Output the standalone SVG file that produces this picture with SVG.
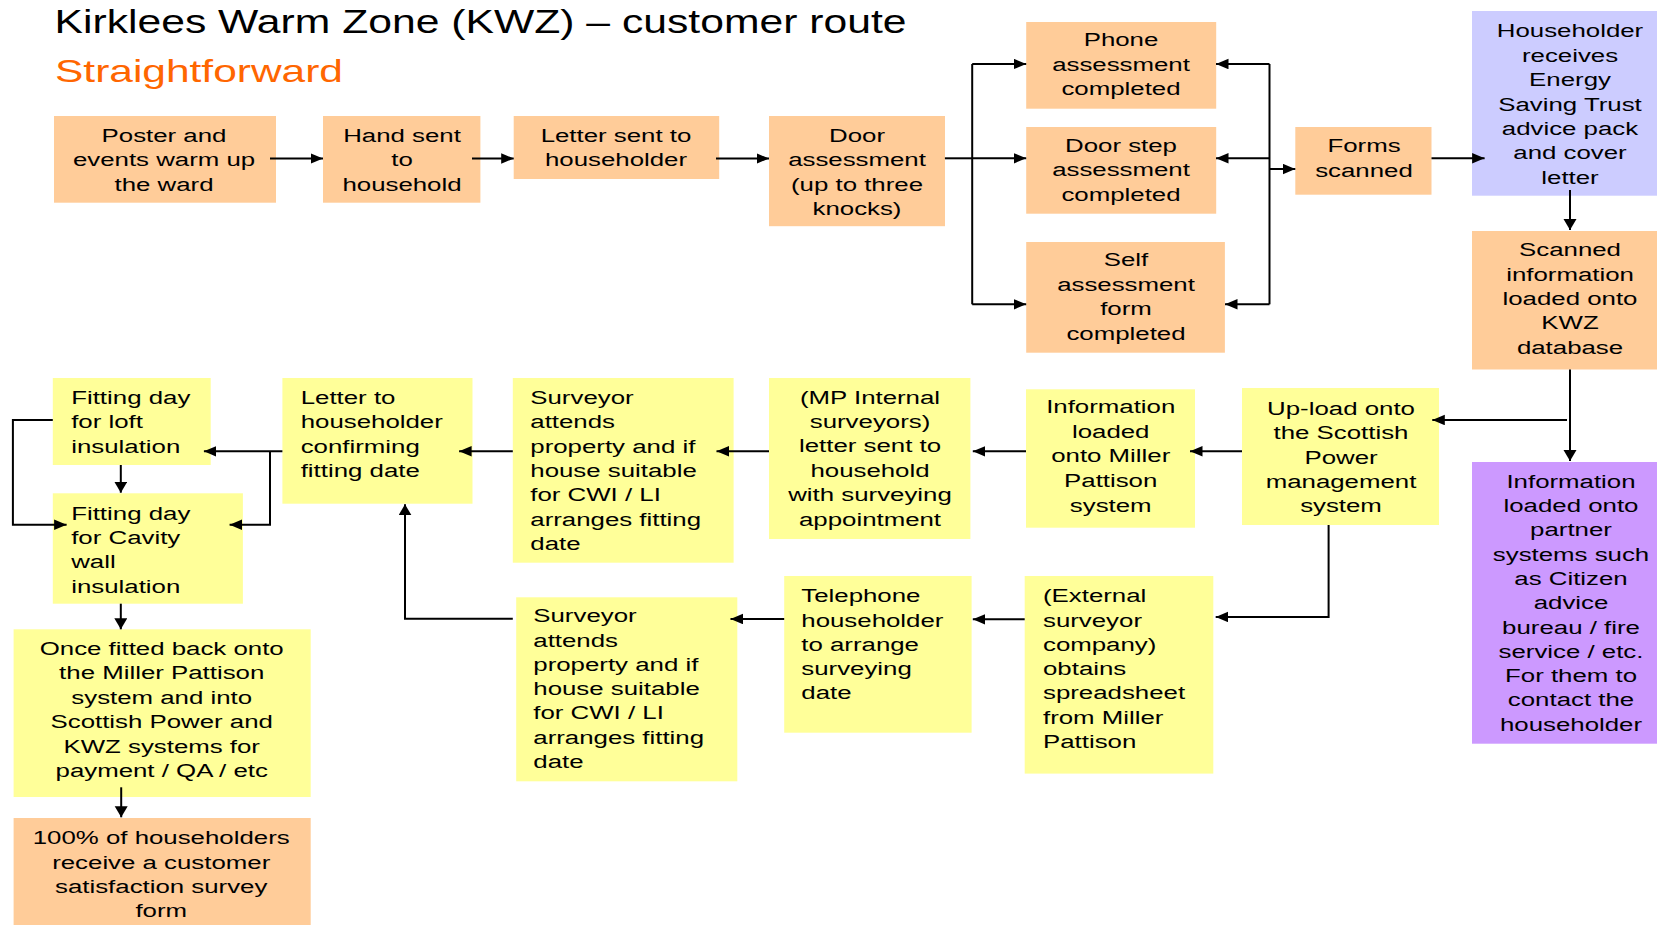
<svg xmlns="http://www.w3.org/2000/svg" width="1657" height="925" viewBox="0 0 1657 925">
<style>
.o{fill:#FFCC99}.y{fill:#FFFF99}.b{fill:#CCCCFF}.p{fill:#CC99FF}
.t{font-family:"Liberation Sans",Arial,sans-serif;font-size:19px;fill:#000}
.c{text-anchor:middle}
.h{font-family:"Liberation Sans",Arial,sans-serif;fill:#000}
#connectors path{fill:none;stroke:#000;stroke-width:2}
</style>
<defs>
<marker id="ah" markerUnits="userSpaceOnUse" markerWidth="14" markerHeight="12" refX="12.5" refY="5.25" orient="auto"><path d="M0,0 L12.5,5.25 L0,10.5 z" fill="#000"/></marker>
<marker id="av" markerUnits="userSpaceOnUse" markerWidth="12" markerHeight="14" refX="11" refY="6.5" orient="auto"><path d="M0,0 L11,6.5 L0,13 z" fill="#000"/></marker>
</defs>
<rect width="1657" height="925" fill="#fff"/>
<g id="title">
<text class="h" x="54.5" y="33.3" font-size="32.5" textLength="852" lengthAdjust="spacingAndGlyphs">Kirklees Warm Zone (KWZ) – customer route</text>
<text class="h" x="55" y="81.7" font-size="31.5" textLength="288" lengthAdjust="spacingAndGlyphs" style="fill:#FF6600">Straightforward</text>
</g>

<g id="poster"><rect class="o" x="54" y="116" width="222" height="86.7"/>
<text class="t c" transform="translate(164 0) scale(1.36 1)"><tspan x="0" y="141.7">Poster and</tspan><tspan x="0" y="166.2">events warm up</tspan><tspan x="0" y="190.7">the ward</tspan></text></g>
<g id="hand"><rect class="o" x="323" y="116" width="157.4" height="86.7"/>
<text class="t c" transform="translate(402 0) scale(1.36 1)"><tspan x="0" y="141.7">Hand sent</tspan><tspan x="0" y="166.2">to</tspan><tspan x="0" y="190.7">household</tspan></text></g>
<g id="lettersent"><rect class="o" x="513.7" y="116" width="205.5" height="63"/>
<text class="t c" transform="translate(616 0) scale(1.36 1)"><tspan x="0" y="141.7">Letter sent to</tspan><tspan x="0" y="166.2">householder</tspan></text></g>
<g id="door"><rect class="o" x="769" y="116" width="176" height="110.2"/>
<text class="t c" transform="translate(857 0) scale(1.36 1)"><tspan x="0" y="141.7">Door</tspan><tspan x="0" y="166.2">assessment</tspan><tspan x="0" y="190.7">(up to three</tspan><tspan x="0" y="215.2">knocks)</tspan></text></g>
<g id="phone"><rect class="o" x="1026.2" y="22" width="190" height="86.7"/>
<text class="t c" transform="translate(1121 0) scale(1.36 1)"><tspan x="0" y="46.5">Phone</tspan><tspan x="0" y="71">assessment</tspan><tspan x="0" y="95.5">completed</tspan></text></g>
<g id="doorstep"><rect class="o" x="1026.2" y="127" width="190" height="86.7"/>
<text class="t c" transform="translate(1121 0) scale(1.36 1)"><tspan x="0" y="152">Door step</tspan><tspan x="0" y="176.5">assessment</tspan><tspan x="0" y="201">completed</tspan></text></g>
<g id="self"><rect class="o" x="1026.2" y="242" width="198.7" height="110.7"/>
<text class="t c" transform="translate(1126 0) scale(1.36 1)"><tspan x="0" y="266.5">Self</tspan><tspan x="0" y="291">assessment</tspan><tspan x="0" y="315.5">form</tspan><tspan x="0" y="340">completed</tspan></text></g>
<g id="forms"><rect class="o" x="1295.3" y="127" width="136.2" height="67.7"/>
<text class="t c" transform="translate(1364 0) scale(1.36 1)"><tspan x="0" y="152.5">Forms</tspan><tspan x="0" y="177">scanned</tspan></text></g>
<g id="householder"><rect class="b" x="1472" y="11" width="185" height="184.7"/>
<text class="t c" transform="translate(1570 0) scale(1.36 1)"><tspan x="0" y="37.5">Householder</tspan><tspan x="0" y="61.9">receives</tspan><tspan x="0" y="86.3">Energy</tspan><tspan x="0" y="110.7">Saving Trust</tspan><tspan x="0" y="135.1">advice pack</tspan><tspan x="0" y="159.5">and cover</tspan><tspan x="0" y="183.9">letter</tspan></text></g>
<g id="scanned"><rect class="o" x="1472" y="231" width="185" height="138.5"/>
<text class="t c" transform="translate(1570 0) scale(1.36 1)"><tspan x="0" y="256.2">Scanned</tspan><tspan x="0" y="280.6">information</tspan><tspan x="0" y="305">loaded onto</tspan><tspan x="0" y="329.4">KWZ</tspan><tspan x="0" y="353.8">database</tspan></text></g>
<g id="partner"><rect class="p" x="1472" y="462" width="185" height="281.7"/>
<text class="t c" transform="translate(1571 0) scale(1.36 1)"><tspan x="0" y="487.8">Information</tspan><tspan x="0" y="512.1">loaded onto</tspan><tspan x="0" y="536.4">partner</tspan><tspan x="0" y="560.7">systems such</tspan><tspan x="0" y="585">as Citizen</tspan><tspan x="0" y="609.3">advice</tspan><tspan x="0" y="633.6">bureau / fire</tspan><tspan x="0" y="657.9">service / etc.</tspan><tspan x="0" y="682.2">For them to</tspan><tspan x="0" y="706.5">contact the</tspan><tspan x="0" y="730.8">householder</tspan></text></g>
<g id="upload"><rect class="y" x="1242" y="388" width="197" height="137"/>
<text class="t c" transform="translate(1341 0) scale(1.36 1)"><tspan x="0" y="415">Up-load onto</tspan><tspan x="0" y="439.3">the Scottish</tspan><tspan x="0" y="463.6">Power</tspan><tspan x="0" y="487.9">management</tspan><tspan x="0" y="512.2">system</tspan></text></g>
<g id="infomp"><rect class="y" x="1026" y="389.3" width="169" height="138.4"/>
<text class="t c" transform="translate(1110.7 0) scale(1.36 1)"><tspan x="0" y="412.9">Information</tspan><tspan x="0" y="437.6">loaded</tspan><tspan x="0" y="462.3">onto Miller</tspan><tspan x="0" y="487">Pattison</tspan><tspan x="0" y="511.7">system</tspan></text></g>
<g id="mpinternal"><rect class="y" x="769" y="378" width="201.4" height="161"/>
<text class="t c" transform="translate(870 0) scale(1.36 1)"><tspan x="0" y="403.7">(MP Internal</tspan><tspan x="0" y="428.1">surveyors)</tspan><tspan x="0" y="452.5">letter sent to</tspan><tspan x="0" y="476.9">household</tspan><tspan x="0" y="501.3">with surveying</tspan><tspan x="0" y="525.7">appointment</tspan></text></g>
<g id="surveyor1"><rect class="y" x="512.8" y="378" width="220.8" height="184.7"/>
<text class="t" transform="translate(530.3 0) scale(1.36 1)"><tspan x="0" y="404.2">Surveyor</tspan><tspan x="0" y="428.5">attends</tspan><tspan x="0" y="452.8">property and if</tspan><tspan x="0" y="477.1">house suitable</tspan><tspan x="0" y="501.4">for CWI / LI</tspan><tspan x="0" y="525.7">arranges fitting</tspan><tspan x="0" y="550">date</tspan></text></g>
<g id="letterto"><rect class="y" x="282.4" y="378" width="190.1" height="125.7"/>
<text class="t" transform="translate(300.7 0) scale(1.36 1)"><tspan x="0" y="404.2">Letter to</tspan><tspan x="0" y="428.5">householder</tspan><tspan x="0" y="452.8">confirming</tspan><tspan x="0" y="477.1">fitting date</tspan></text></g>
<g id="loft"><rect class="y" x="52.8" y="378" width="157.9" height="87"/>
<text class="t" transform="translate(71.2 0) scale(1.36 1)"><tspan x="0" y="404.2">Fitting day</tspan><tspan x="0" y="428.5">for loft</tspan><tspan x="0" y="452.8">insulation</tspan></text></g>
<g id="cavity"><rect class="y" x="52.8" y="493.3" width="190.1" height="110.4"/>
<text class="t" transform="translate(71.2 0) scale(1.36 1)"><tspan x="0" y="519.7">Fitting day</tspan><tspan x="0" y="544">for Cavity</tspan><tspan x="0" y="568.3">wall</tspan><tspan x="0" y="592.6">insulation</tspan></text></g>
<g id="oncefitted"><rect class="y" x="13.6" y="629.3" width="297.1" height="167.7"/>
<text class="t c" transform="translate(161.7 0) scale(1.36 1)"><tspan x="0" y="655">Once fitted back onto</tspan><tspan x="0" y="679.4">the Miller Pattison</tspan><tspan x="0" y="703.8">system and into</tspan><tspan x="0" y="728.2">Scottish Power and</tspan><tspan x="0" y="752.6">KWZ systems for</tspan><tspan x="0" y="777">payment / QA / etc</tspan></text></g>
<g id="survey100"><rect class="o" x="13.6" y="818" width="297.1" height="107"/>
<text class="t c" transform="translate(161.2 0) scale(1.36 1)"><tspan x="0" y="844.3">100% of householders</tspan><tspan x="0" y="868.6">receive a customer</tspan><tspan x="0" y="892.9">satisfaction survey</tspan><tspan x="0" y="917.2">form</tspan></text></g>
<g id="external"><rect class="y" x="1024.7" y="576" width="188.6" height="197.6"/>
<text class="t" transform="translate(1043 0) scale(1.36 1)"><tspan x="0" y="602.3">(External</tspan><tspan x="0" y="626.6">surveyor</tspan><tspan x="0" y="650.9">company)</tspan><tspan x="0" y="675.2">obtains</tspan><tspan x="0" y="699.5">spreadsheet</tspan><tspan x="0" y="723.8">from Miller</tspan><tspan x="0" y="748.1">Pattison</tspan></text></g>
<g id="telephone"><rect class="y" x="784.2" y="576" width="187.4" height="156.7"/>
<text class="t" transform="translate(801.3 0) scale(1.36 1)"><tspan x="0" y="602.3">Telephone</tspan><tspan x="0" y="626.6">householder</tspan><tspan x="0" y="650.9">to arrange</tspan><tspan x="0" y="675.2">surveying</tspan><tspan x="0" y="699.5">date</tspan></text></g>
<g id="surveyor2"><rect class="y" x="516.2" y="597.3" width="221.1" height="184"/>
<text class="t" transform="translate(533.3 0) scale(1.36 1)"><tspan x="0" y="622.3">Surveyor</tspan><tspan x="0" y="646.6">attends</tspan><tspan x="0" y="670.9">property and if</tspan><tspan x="0" y="695.2">house suitable</tspan><tspan x="0" y="719.5">for CWI / LI</tspan><tspan x="0" y="743.8">arranges fitting</tspan><tspan x="0" y="768.1">date</tspan></text></g>

<g id="connectors">
<path d="M270,158.5 H323" marker-end="url(#ah)"/>
<path d="M472,158.5 H513.7" marker-end="url(#ah)"/>
<path d="M716,158.5 H769" marker-end="url(#ah)"/>
<path d="M944.9,158.3 H972.2"/>
<path d="M972.2,64 V304.3"/>
<path d="M972.2,64 H1026.2" marker-end="url(#ah)"/>
<path d="M972.2,158.3 H1026.2" marker-end="url(#ah)"/>
<path d="M972.2,304.3 H1026.2" marker-end="url(#ah)"/>
<path d="M1269.5,64 V304.3"/>
<path d="M1269.5,64 H1216" marker-end="url(#ah)"/>
<path d="M1269.5,158.3 H1216" marker-end="url(#ah)"/>
<path d="M1269.5,304.3 H1225" marker-end="url(#ah)"/>
<path d="M1269.5,169 H1295.3" marker-end="url(#ah)"/>
<path d="M1431.5,158.3 H1484.6" marker-end="url(#ah)"/>
<path d="M1570,190 V230" marker-end="url(#av)"/>
<path d="M1570,369.5 V461" marker-end="url(#av)"/>
<path d="M1567,420 H1432.3" marker-end="url(#ah)"/>
<path d="M1242,451.3 H1190" marker-end="url(#ah)"/>
<path d="M1026,451.3 H972.8" marker-end="url(#ah)"/>
<path d="M769,451.3 H716.5" marker-end="url(#ah)"/>
<path d="M512.8,451.3 H459.1" marker-end="url(#ah)"/>
<path d="M282.4,451.3 H203.9" marker-end="url(#ah)"/>
<path d="M270,451.3 V524.7 H229.6" marker-end="url(#ah)"/>
<path d="M52.8,420 H12.9 V524.7 H66.6" marker-end="url(#ah)"/>
<path d="M120.8,465 V492.7" marker-end="url(#av)"/>
<path d="M120.8,603.7 V629.3" marker-end="url(#av)"/>
<path d="M121.2,787.3 V817.3" marker-end="url(#av)"/>
<path d="M1328.6,525 V617 H1215.7" marker-end="url(#ah)"/>
<path d="M1024.7,619.3 H972.8" marker-end="url(#ah)"/>
<path d="M784.2,619 H730.5" marker-end="url(#ah)"/>
<path d="M512.8,618.7 H405 V504.3" marker-end="url(#av)"/>
</g>
</svg>
